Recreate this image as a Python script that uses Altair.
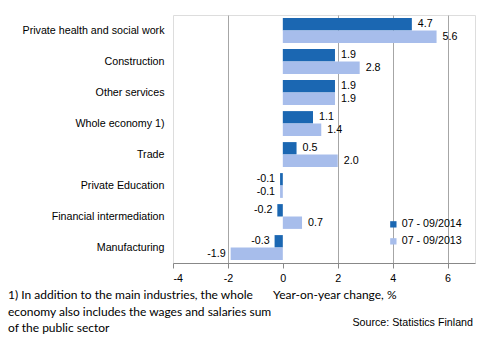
import altair as alt
import pandas as pd

categories = ["Private health and social work", "Construction", "Other services",
              "Whole economy 1)", "Trade", "Private Education",
              "Financial intermediation", "Manufacturing"]
series = ["07 - 09/2014", "07 - 09/2013"]
values_2014 = [4.7, 1.9, 1.9, 1.1, 0.5, -0.1, -0.2, -0.3]
values_2013 = [5.6, 2.8, 1.9, 1.4, 2.0, -0.1, 0.7, -1.9]
x_ticks = [-4, -2, 0, 2, 4, 6]
colors = ["#1B67B2", "#A7BDEB"]

rows = []
for c, a, b in zip(categories, values_2014, values_2013):
    rows.append({"cat": c, "series": series[0], "val": a, "lab": f"{a:.1f}"})
    rows.append({"cat": c, "series": series[1], "val": b, "lab": f"{b:.1f}"})
df = pd.DataFrame(rows)

FONT = "Liberation Sans"
FOOT = "Lato"
FS = 10.7

y_enc = alt.Y("cat:N", sort=categories,
              scale=alt.Scale(paddingInner=0.2, paddingOuter=0.1),
              axis=alt.Axis(title=None, ticks=False, domain=False, labelFontSize=FS,
                            labelFont=FONT, labelColor="#000000", labelPadding=9,
                            labelLimit=300))
x_scale = alt.Scale(domain=[-4, 7], nice=False)
yoff = alt.YOffset("series:N", sort=series, scale=alt.Scale(paddingInner=0, paddingOuter=0))

base = alt.Chart(df)

bars = base.mark_bar().encode(
    y=y_enc,
    yOffset=yoff,
    x=alt.X("val:Q", scale=x_scale,
            axis=alt.Axis(values=x_ticks, title=None, grid=True, gridColor="#A6A6A6",
                          gridOpacity=alt.ExprRef("datum.value == 0 || datum.value == -4 ? 0 : 1"),
                          labelExpr="datum.value + ''",
                          domainColor="#888888", tickColor="#888888", tickSize=5,
                          labelFontSize=FS, labelFont=FONT, labelColor="#000000",
                          labelPadding=5)),
    color=alt.Color("series:N", sort=series,
                    scale=alt.Scale(domain=series, range=colors),
                    legend=alt.Legend(title=None, orient="none", legendX=215, legendY=204,
                                      symbolType="square", symbolSize=40, labelFontSize=FS,
                                      labelFont=FONT, labelColor="#000000", rowPadding=5,
                                      symbolStrokeWidth=0, labelOffset=3)),
)

pos_labels = base.transform_filter("datum.val >= 0").mark_text(
    align="left", baseline="middle", dx=6, fontSize=FS, font=FONT, color="#000000"
).encode(y=alt.Y("cat:N", sort=categories), yOffset=yoff,
         x=alt.X("val:Q", scale=x_scale), text="lab:N")

neg_labels = base.transform_filter("datum.val < 0").mark_text(
    align="right", baseline="middle", dx=-5, fontSize=FS, font=FONT, color="#000000"
).encode(y=alt.Y("cat:N", sort=categories), yOffset=yoff,
         x=alt.X("val:Q", scale=x_scale), text="lab:N")

one = alt.Data(values=[{}])
foot = alt.Chart(one).mark_text(
    align="left", baseline="top", fontSize=12, font=FOOT, color="#000000", lineHeight=16.5
).encode(x=alt.value(-165), y=alt.value(275),
         text=alt.value(["1) In addition to the  main industries, the whole",
                         "economy also includes the wages and salaries sum",
                         "of the public sector"]))

xtitle = alt.Chart(one).mark_text(
    align="left", baseline="top", fontSize=12, font=FOOT, color="#000000"
).encode(x=alt.value(100), y=alt.value(275), text=alt.value("Year-on-year change, %"))

source = alt.Chart(one).mark_text(
    align="right", baseline="middle", fontSize=FS, font=FONT, color="#000000"
).encode(x=alt.value(300), y=alt.value(308), text=alt.value("Source: Statistics Finland"))

chart = alt.layer(bars, pos_labels, neg_labels, foot, xtitle, source).properties(
    width=302, height=248,
    autosize=alt.AutoSizeParams(type="none"),
    padding={"left": 173, "top": 15, "right": 19, "bottom": 76},
).configure_view(stroke="#888888", strokeWidth=1).configure(background="white")

chart.save("out.html", embed_options={"renderer": "svg", "actions": False})
